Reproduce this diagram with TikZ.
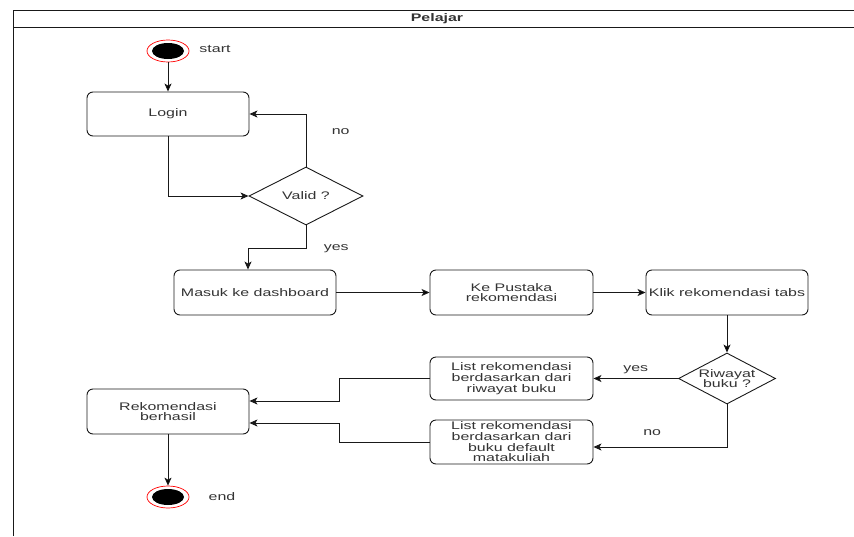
\documentclass[tikz,border=0pt]{standalone}
\usepackage{fontspec}
\setmainfont{Liberation Sans}[FakeStretch=1.45]
\usepackage{tikz}
\usetikzlibrary{positioning,shapes.geometric,arrows.meta}

\begin{document}
\begin{tikzpicture}[
    x=1pt, y=-1pt,
    >={Stealth[length=8pt,width=7pt,inset=2pt]},
    font=\fontsize{11}{10.7}\selectfont,
    every node/.style={text=black!80},
    line/.style={draw=black!90, line width=0.9pt},
    activity/.style={line, rounded corners=6pt, minimum width=162pt, minimum height=45pt, align=center, inner sep=1pt},
    decision/.style={line, diamond, inner sep=0pt, align=center},
    startdot/.style={ellipse, draw=red, line width=0.7pt, fill=white, minimum width=42pt, minimum height=22pt, inner sep=0pt}
]
    \useasboundingbox (0,0) rectangle (854,536);

    % swimlane frame with its header
    \draw[line] (13,536) -- (13,10) -- (854,10);
    \draw[line] (13,27) -- (854,27);
    \node[font=\fontsize{11}{12}\selectfont\bfseries] (lane) at (437,18.5) {Pelajar};

    % start and end markers
    \node[startdot] (start) at (168,51) {};
    \fill[black] (start.center) ellipse [x radius=16pt, y radius=8pt];
    \node (startlbl) at (215,49) {start};
    \node[startdot] (end) at (168,497) {};
    \fill[black] (end.center) ellipse [x radius=16pt, y radius=8pt];
    \node (endlbl) at (222,497) {end};

    % activities
    \node[activity, minimum height=44pt] (login) at (168,114) {Login};
    \node[decision, aspect=1.97, minimum width=114pt, minimum height=58pt] (valid) at (306,196) {Valid ?};
    \node[activity] (masuk) at (255,292.5) {Masuk ke dashboard};
    \node[activity, minimum width=163pt] (pustaka) at (511.5,292.5) {Ke Pustaka\\rekomendasi};
    \node[activity] (klik) at (727,292.5) {Klik rekomendasi tabs};
    \node[decision, aspect=1.9, minimum width=97pt, minimum height=51pt] (riwayat) at (727,378.5) {Riwayat\\buku ?};
    \node[activity, minimum width=163pt, minimum height=43pt] (listriwayat) at (511.5,378.5) {List rekomendasi\\berdasarkan dari\\riwayat buku};
    \node[activity, minimum width=163pt, minimum height=44pt] (listdefault) at (511.5,442) {List rekomendasi\\berdasarkan dari\\buku default\\matakuliah};
    \node[activity] (hasil) at (168,411.5) {Rekomendasi\\berhasil};

    % flow
    \path[line, ->]
        (start) edge (login)
        (masuk) edge (pustaka)
        (pustaka) edge (klik)
        (klik) edge (riwayat)
        (riwayat) edge node[above=1pt, pos=0.5] (yesb) {yes} (listriwayat)
        (hasil) edge (end);
    \draw[line, ->] (login) |- (valid);
    \draw[line, ->] (valid.north) |- node[pos=0.33, right=22pt] (nolbl) {no} (login.east);
    \draw[line, ->] (valid.south) -- ++(0,23) node[right=14pt] (yeslbl) {yes} -| ([xshift=-7pt]masuk.north);
    \draw[line, ->] (riwayat.south) |- node[pos=0.78, above=8pt] (nob) {no} ([yshift=-5pt]listdefault.east);
    \draw[line, ->] (listriwayat.west) -- ++(-90,0) |- ([yshift=10.5pt]hasil.east);
    \draw[line, ->] (listdefault.west) -- ++(-90,0) |- ([yshift=-11.5pt]hasil.east);
\end{tikzpicture}
\end{document}
